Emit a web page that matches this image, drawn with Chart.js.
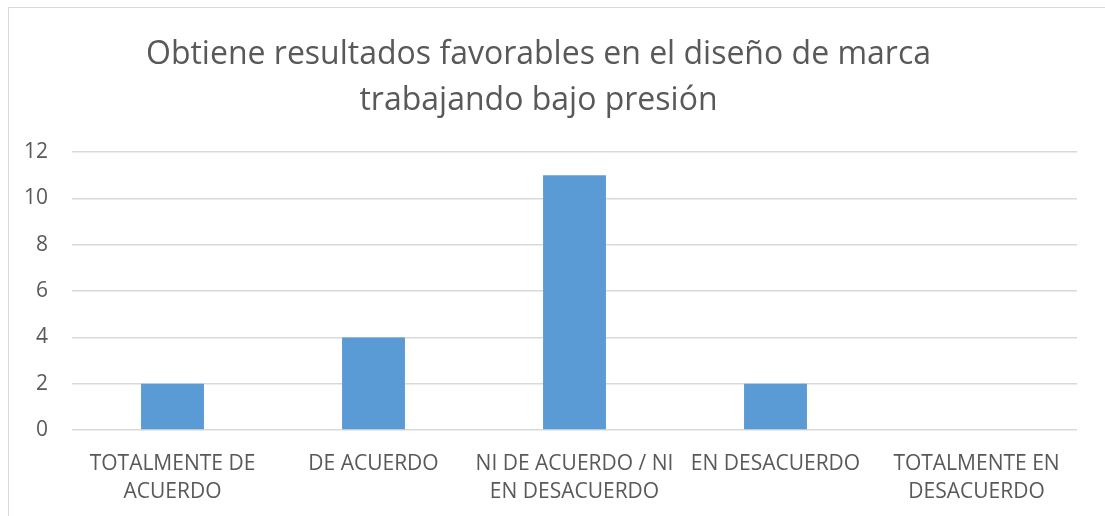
<!DOCTYPE html>
<html>
<head>
<meta charset="utf-8">
<script src="https://cdn.jsdelivr.net/npm/chart.js@4"></script>
<style>
  body { margin: 0; background: #fff; }
  #wrap { position: relative; width: 1105px; height: 516px; overflow: hidden; }
  #frame { position: absolute; left: 8px; top: 7px; width: 1110px; height: 520px; border: 1px solid #d9d9d9; box-sizing: border-box; }
  canvas { position: absolute; left: 0; top: 0; }
</style>
</head>
<body>
<div id="wrap">
  <div id="frame"></div>
  <canvas id="myChart" width="1105" height="516"></canvas>
</div>
<script>
// datos del grafico
const titleLines = ['Obtiene resultados favorables en el diseño de marca', 'trabajando bajo presión'];
const categories = [
  ['TOTALMENTE DE', 'ACUERDO'],
  'DE ACUERDO',
  ['NI DE ACUERDO / NI', 'EN DESACUERDO'],
  'EN DESACUERDO',
  ['TOTALMENTE EN', 'DESACUERDO']
];
const values = [2, 4, 11, 2, 0];
const yMin = 0, yMax = 12, yStep = 2;

const textColor = '#595959';
const fontFam = '"Open Sans", "Noto Sans", sans-serif';

const config = {
  type: 'bar',
  data: {
    labels: categories,
    datasets: [{
      data: values,
      backgroundColor: '#5B9BD5',
      categoryPercentage: 1,
      barPercentage: 0.313
    }]
  },
  options: {
    responsive: false,
    animation: false,
    layout: { padding: { left: 0, right: 28, top: 0, bottom: 0 } },
    plugins: {
      legend: { display: false },
      tooltip: { enabled: false },
      title: {
        display: true,
        text: titleLines,
        color: textColor,
        font: { family: fontFam, size: 32, weight: 'normal', lineHeight: 1.44 },
        padding: { top: 32, bottom: 28 }
      }
    },
    scales: {
      x: {
        grid: { display: false },
        border: { display: false },
        ticks: {
          color: textColor,
          font: { family: fontFam, size: 21, lineHeight: 1.33 },
          maxRotation: 0,
          autoSkip: false,
          padding: 12
        },
        afterFit: (scale) => { scale.height = 86; }
      },
      y: {
        min: yMin,
        max: yMax,
        grid: { color: '#d9d9d9', lineWidth: 1.5, drawTicks: false },
        border: { display: false },
        ticks: {
          stepSize: yStep,
          color: textColor,
          font: { family: fontFam, size: 21 },
          padding: 24
        },
        afterFit: (scale) => { scale.width = 72; }
      }
    }
  }
};

let myChart = new Chart(document.getElementById('myChart'), config);
</script>
</body>
</html>
